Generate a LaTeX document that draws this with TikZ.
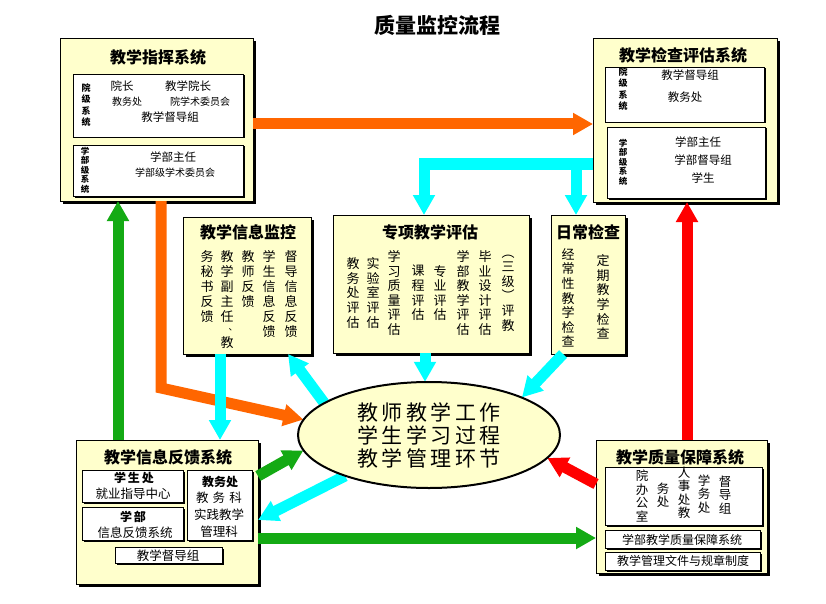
\documentclass[tikz,border=0pt]{standalone}
\usepackage{fontspec}
\setmainfont{Noto Sans CJK SC}
\usetikzlibrary{arrows.meta,shadows,shapes.geometric}
\definecolor{boxyellow}{RGB}{255,255,204}
\definecolor{arrorange}{RGB}{255,102,0}
\definecolor{arrcyan}{RGB}{0,255,255}
\definecolor{arrgreen}{RGB}{20,170,20}
\definecolor{arrred}{RGB}{255,0,0}
\newcommand\mkbox[6]{\pgfmathsetmacro\bw{#4-#2}\pgfmathsetmacro\bh{#5-#3}\node[#1, minimum width=\bw pt, minimum height=\bh pt] (#6) at (#2,#3) {};}
\newcommand\gp{\hspace{3.5pt}}
\begin{document}
\begin{tikzpicture}[x=1pt,y=-1pt,
 panel/.style={draw=black, line width=0.7pt, fill=boxyellow, anchor=north west, inner sep=0pt, outer sep=0pt, general shadow={fill=black, shadow xshift=3pt, shadow yshift=-3pt}},
 inbox/.style={draw=black, line width=0.7pt, fill=white, anchor=north west, inner sep=0pt, outer sep=0pt, general shadow={fill=black, shadow xshift=1.5pt, shadow yshift=-1.5pt}},
 ttl/.style={font=\fontsize{16}{18}\selectfont\bfseries, inner sep=0pt},
 txt/.style={font=\fontsize{11.5}{13}\selectfont, inner sep=0pt},
 stxt/.style={font=\fontsize{10}{12}\selectfont, inner sep=0pt},
 mtxt/.style={font=\fontsize{12.5}{14}\selectfont, inner sep=0pt},
 btxt/.style={font=\fontsize{12}{14}\selectfont\bfseries, inner sep=0pt},
 vlab/.style={font=\fontsize{9}{11.3}\selectfont\bfseries, align=center, inner sep=0pt},
 vlabs/.style={font=\fontsize{8.5}{9.5}\selectfont\bfseries, align=center, inner sep=0pt},
 vt/.style={font=\fontsize{13}{15}\selectfont, align=center, inner sep=0pt},
 vts/.style={font=\fontsize{13}{14.6}\selectfont, align=center, inner sep=0pt},
 vtq/.style={font=\fontsize{12.5}{13.5}\selectfont, align=center, inner sep=0pt},
 barrow/.style={line width=11pt, -{Triangle[length=20pt,width=21pt]}, line join=miter},
]
\useasboundingbox (0,0) rectangle (826,604);
\fill[white] (0,0) rectangle (826,604);

% title
\node[font=\fontsize{21}{24}\selectfont\bfseries, inner sep=0pt] (title) at (437,25) {质量监控流程};

% ---------- panels ----------
\mkbox{panel}{60}{38}{253}{201}{cmd}
\mkbox{panel}{593}{38}{777}{202}{chk}
\mkbox{panel}{183}{217}{311}{354}{mon}
\mkbox{panel}{333}{215}{529}{353}{spec}
\mkbox{panel}{551}{215}{625}{354}{daily}
\mkbox{panel}{76}{440}{258}{584}{fb}
\mkbox{panel}{596}{440}{767}{573}{qa}

% inner boxes
\mkbox{inbox}{73}{74}{243}{137}{cmdA}
\mkbox{inbox}{73}{145}{243}{196}{cmdB}
\mkbox{inbox}{605}{67}{764}{122}{chkA}
\mkbox{inbox}{607}{127}{765}{198}{chkB}
\mkbox{inbox}{82}{470}{183}{502}{fbA}
\mkbox{inbox}{82}{507}{183}{540}{fbB}
\mkbox{inbox}{187}{470}{252}{540}{fbC}
\mkbox{inbox}{115}{547}{222}{563}{fbD}
\mkbox{inbox}{605}{467}{762}{525}{qaA}
\mkbox{inbox}{605}{530}{760}{548}{qaB}
\mkbox{inbox}{605}{552}{760}{570}{qaC}

% ---------- top-left ----------
\node[ttl] (cmdT) at (158,57) {教学指挥系统};
\node[vlab] (cmdL1) at (86,105) {院\\级\\系\\统};
\node[txt] (c1) at (122,86) {院长};
\node[txt] (c2) at (188,86) {教学院长};
\node[stxt] (c3) at (127,102) {教务处};
\node[stxt] (c4) at (200,102) {院学术委员会};
\node[txt] (c5) at (170,117) {教学督导組};
\node[vlabs] (cmdL2) at (85,170) {学\\部\\级\\系\\统};
\node[txt] (c6) at (173,157) {学部主任};
\node[stxt] (c7) at (175,173) {学部级学术委员会};

% ---------- top-right ----------
\node[ttl] (chkT) at (683,55) {教学检查评估系统};
\node[vlab] (chkL1) at (623,89) {院\\级\\系\\统};
\node[txt] (k1) at (690,75) {教学督导组};
\node[txt] (k2) at (685,97) {教务处};
\node[vlabs] (chkL2) at (623,162) {学\\部\\级\\系\\统};
\node[txt] (k3) at (698,142) {学部主任};
\node[txt] (k4) at (703,160) {学部督导组};
\node[txt] (k5) at (703,178) {学生};

% ---------- monitor ----------
\node[ttl] (monT) at (248,232) {教学信息监控};
\node[vt, anchor=north] (m1) at (207,250) {务\\秘\\书\\反\\馈};
\node[vt, anchor=north] (m2) at (227,250) {教\\学\\副\\主\\任};
\node[font=\fontsize{9}{10}\selectfont, inner sep=0pt] (m2b) at (233,330) {、};
\node[vt] (m2c) at (227,343) {教};
\node[vt, anchor=north] (m3) at (248,250) {教\\师\\反\\馈};
\node[vt, anchor=north] (m4) at (269,250) {学\\生\\信\\息\\反\\馈};
\node[vt, anchor=north] (m5) at (291,250) {督\\导\\信\\息\\反\\馈};

% ---------- special ----------
\node[ttl] (specT) at (430,232) {专项教学评估};
\node[vts] (s1) at (353,293) {教\\务\\处\\评\\估};
\node[vts] (s2) at (373,293) {实\\验\\室\\评\\估};
\node[vts] (s3) at (394,293) {学\\习\\质\\量\\评\\估};
\node[vts] (s4) at (418,293) {课\\程\\评\\估};
\node[vts] (s5) at (440,293) {专\\业\\评\\估};
\node[vts] (s6) at (463,293) {学\\部\\教\\学\\评\\估};
\node[vts] (s7) at (485,293) {毕\\业\\设\\计\\评\\估};
\node[vts] (s8) at (508,293) {︵\\三\\级\\︶\\评\\教};

% ---------- daily ----------
\node[ttl] (dailyT) at (588,232) {日常检查};
\node[vts] (d1) at (568,298) {经\\常\\性\\教\\学\\检\\查};
\node[vts] (d2) at (603,297) {定\\期\\教\\学\\检\\查};

% ---------- feedback ----------
\node[ttl] (fbT) at (168,457) {教学信息反馈系统};
\node[btxt] (f1) at (134,478) {学\,生\,处};
\node[mtxt] (f2) at (133,494) {就业指导中心};
\node[btxt] (f3) at (133,517) {学\,部};
\node[mtxt] (f4) at (135,533) {信息反馈系统};
\node[btxt] (f5) at (220,482) {教务处};
\node[mtxt] (f6) at (219,498) {教\,\,务\,\,科};
\node[mtxt] (f7) at (219,515) {实践教学};
\node[mtxt] (f8) at (219,532) {管理科};
\node[mtxt] (f9) at (168,556) {教学督导组};

% ---------- quality ----------
\node[ttl] (qaT) at (680,457) {教学质量保障系统};
\node[vtq] (q1) at (642,496) {院\\办\\公\\室};
\node[vtq] (q2) at (663,495) {务\\处};
\node[vtq] (q3) at (684,493) {人\\事\\处\\教};
\node[vtq] (q4) at (704,494) {学\\务\\处};
\node[vtq] (q5) at (725,495) {督\\导\\组};
\node[txt, font=\fontsize{12}{14}\selectfont] (q6) at (682,540) {学部教学质量保障系统};
\node[txt, font=\fontsize{12}{14}\selectfont] (q7) at (683,561) {教学管理文件与规章制度};

% ---------- ellipse (shape only, drawn later) ----------
\path (429,435) node[ellipse, minimum width=262pt, minimum height=106pt, inner sep=0pt] (ell) {};

% ---------- arrows ----------
\draw[barrow, arrorange] (cmd.east |- 0,124) -- (chk.west |- 0,124);
\draw[barrow, arrorange] (cmd.south -| 161,0) -- (161,388) -- (ell.173);
\draw[barrow, arrcyan] (chk.west |- 0,164) -- (424,164) -- (spec.north -| 424,0);
\draw[barrow, arrcyan] (576,158.5) -- (daily.north -| 576,0);
\draw[barrow, arrcyan] (mon.south -| 220,0) -- (fb.north -| 220,0);
\draw[barrow, arrcyan] (ell.163) -- (mon.south -| 288,0);
\draw[barrow, arrcyan] (spec.south -| 425,0) -- (ell.north -| 425,0);
\draw[barrow, arrcyan] (daily.south -| 563,0) -- (ell.22);
\draw[barrow, arrcyan] (ell.206) -- (fb.east |- 0,520);
\draw[barrow, arrgreen] (fb.north -| 118,0) -- (cmd.south -| 118,0);
\draw[barrow, arrgreen] (fb.east |- 0,476) -- (ell.187);
\draw[barrow, arrgreen] (fb.east |- 0,538) -- (qa.west |- 0,538);
\draw[barrow, arrred] (qa.north -| 687,0) -- (chk.south -| 687,0);
\draw[barrow, arrred] (qa.west |- 0,484) -- (ell.-11);

% ---------- ellipse on top ----------
\node[ellipse, draw=black, line width=2pt, fill=boxyellow, minimum width=262pt, minimum height=106pt, inner sep=0pt, align=center, font=\fontsize{21}{23}\selectfont] (core) at (429,435)
 {教\gp 师\gp 教\gp 学\gp 工\gp 作\\学\gp 生\gp 学\gp 习\gp 过\gp 程\\教\gp 学\gp 管\gp 理\gp 环\gp 节};
\end{tikzpicture}
\end{document}
